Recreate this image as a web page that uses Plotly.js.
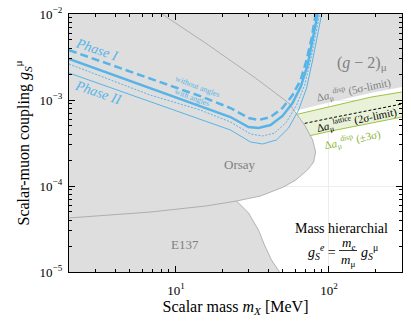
<!DOCTYPE html>
<html><head><meta charset="utf-8">
<script src="https://cdn.plot.ly/plotly-3.0.1.min.js"></script>
<style>html,body{margin:0;padding:0;background:#fff;}#plot{width:411px;height:326px;}</style>
</head><body><div id="plot"></div>
<script>
// ---- axis ranges / ticks ----
const xMin = 2, xMax = 300, yMin = 1e-5, yMax = 1e-2;
const xTickVals = [10, 100];
const xTickText = ['10<sup>1</sup>', '10<sup>2</sup>'];
const xMinorVals = [2,3,4,5,6,7,8,9,20,30,40,50,60,70,80,90,200,300];
const yTickVals = [1e-5, 1e-4, 1e-3, 1e-2];
const yTickText = ['10<sup>\u22125</sup>', '10<sup>\u22124</sup>', '10<sup>\u22123</sup>', '10<sup>\u22122</sup>'];
const yMinorVals = [2e-5,3e-5,4e-5,5e-5,6e-5,7e-5,8e-5,9e-5,2e-4,3e-4,4e-4,5e-4,6e-4,7e-4,8e-4,9e-4,2e-3,3e-3,4e-3,5e-3,6e-3,7e-3,8e-3,9e-3];

// ---- projected reach (blue) ----
const phase1WithoutX = [2, 6.8, 14.4, 22.7, 29.8, 34.6, 41.5, 49.7, 57.8, 65.3, 71.4, 77.0, 81.8];
const phase1WithoutY = [3.8e-3, 1.75e-3, 1.11e-3, 8.07e-4, 6.18e-4, 5.85e-4, 6.34e-4, 8.07e-4, 1.14e-3, 1.71e-3, 2.92e-3, 5.26e-3, 1e-2];
const phase1WithX = [2, 6.8, 14.4, 22.7, 29.8, 34.6, 41.5, 49.7, 57.8, 65.3, 72.5, 78.2, 84.3];
const phase1WithY = [3.0e-3, 1.38e-3, 8.5e-4, 6.34e-4, 4.85e-4, 4.72e-4, 5.12e-4, 6.52e-4, 9.23e-4, 1.42e-3, 2.55e-3, 4.98e-3, 1e-2];
const phase2WithoutX = [2, 6.8, 14.4, 22.7, 30.7, 36.8, 44.1, 52.8, 61.4, 69.3, 75.9, 81.8, 86.9];
const phase2WithoutY = [2.62e-3, 1.14e-3, 7.65e-4, 5.55e-4, 4.02e-4, 3.82e-4, 4.13e-4, 5.55e-4, 8.75e-4, 1.49e-3, 2.92e-3, 5.7e-3, 1e-2];
const phase2WithX = [2, 6.8, 14.4, 22.7, 30.7, 36.8, 45.4, 54.4, 63.3, 71.4, 78.2, 84.3, 89.6];
const phase2WithY = [2.06e-3, 9.48e-4, 6.01e-4, 4.48e-4, 3.25e-4, 3.08e-4, 3.43e-4, 4.72e-4, 7.65e-4, 1.38e-3, 2.92e-3, 5.7e-3, 1e-2];

// ---- Orsay boundary ----
const orsayX = [8.1, 15.6, 33.1, 54.5, 69.3, 78.2, 81.8, 79.4, 72.5, 60.5, 50.5, 35.7, 24.9, 15.6, 6.8, 2];
const orsayY = [1e-2, 4.6e-3, 1.8e-3, 9.23e-4, 5.12e-4, 3.43e-4, 2.49e-4, 1.9e-4, 1.54e-4, 1.17e-4, 9.74e-5, 7.65e-5, 6.69e-5, 5.85e-5, 4.98e-5, 4.25e-5];

// ---- E137 boundary ----
const e137X = [24.9, 29.8, 34.6, 37.9, 42.1, 47.5];
const e137Y = [6.69e-5, 4.85e-5, 3.08e-5, 2.06e-5, 1.38e-5, 1e-5];

// ---- (g-2)_mu bands ----
const bandX = [41.5, 56, 103, 188, 300];
const gm2FiveSigma = [6.43e-4, 7.25e-4, 9.48e-4, 1.21e-3, 1.42e-3];
const dispUpper = [5.78e-4, 6.52e-4, 8.5e-4, 1.08e-3, 1.24e-3];
const latticeTwoSigma = [4.36e-4, 4.94e-4, 6.18e-4, 7.65e-4, 8.99e-4];
const dispLower = [3.0e-4, 3.43e-4, 4.36e-4, 5.4e-4, 6.34e-4];

const GRAY = '#dedede';
const BLUE = '#56B4E9';
const GREEN = '#9dc243';
const SERIF = 'Liberation Serif, Times New Roman, serif';

const traces = [];
// g-2 excluded region
traces.push({x:[xMin, ...bandX, xMax, xMin], y:[gm2FiveSigma[0], ...gm2FiveSigma, yMax, yMax],
  mode:'lines', fill:'toself', fillcolor:GRAY, line:{width:0}, hoverinfo:'skip'});
// green disp band
traces.push({x:bandX, y:dispLower, mode:'lines', line:{color:GREEN, width:1}});
traces.push({x:bandX, y:dispUpper, mode:'lines', fill:'tonexty', fillcolor:'#e9f2d8', line:{color:GREEN, width:1}});
traces.push({x:bandX, y:latticeTwoSigma, mode:'lines', line:{color:'#000', width:1, dash:'3px,2px'}});
// Orsay fill
traces.push({x:[...orsayX, xMin], y:[...orsayY, yMax], mode:'lines', fill:'toself', fillcolor:GRAY, line:{width:0}});
// E137 fill
traces.push({x:[...e137X, xMin, xMin], y:[...e137Y, yMin, e137Y[0]], mode:'lines', fill:'toself', fillcolor:GRAY, line:{width:0}});
// boundaries
traces.push({x:orsayX, y:orsayY, mode:'lines', line:{color:'#999', width:0.7}});
traces.push({x:e137X, y:e137Y, mode:'lines', line:{color:'#999', width:0.7}});
// blue curves
traces.push({x:phase2WithX, y:phase2WithY, mode:'lines', line:{color:BLUE, width:1}});
traces.push({x:phase2WithoutX, y:phase2WithoutY, mode:'lines', line:{color:BLUE, width:1, dash:'2px,1.5px'}});
traces.push({x:phase1WithX, y:phase1WithY, mode:'lines', line:{color:BLUE, width:2.5}});
traces.push({x:phase1WithoutX, y:phase1WithoutY, mode:'lines', line:{color:BLUE, width:2.5, dash:'8px,4px'}});

function px(x){ return (x-69)/333; }
function py(y){ return (272-y)/258; }
function ann(text, x, y, size, color, angle, extra){
  return Object.assign({text:text, x:px(x), y:py(y), xref:'paper', yref:'paper', showarrow:false,
    font:{family:SERIF, size:size, color:color}, textangle:angle||0, xanchor:'center', yanchor:'middle'}, extra||{});
}
const annotations = [
  ann('<i>Phase I</i>', 97, 49, 14, BLUE, 19),
  ann('<i>Phase II</i>', 98, 92, 14, BLUE, 19),
  ann('without angles', 197, 87, 8, BLUE, 21),
  ann('with angles', 192, 97, 8, BLUE, 21),
  ann('(<i>g</i> \u2212 2)<sub>\u03bc</sub>', 362, 63, 16, '#808080', 0),
  ann('\u0394<i>a</i><sub>\u03bc</sub><sup>disp</sup> (5\u03c3-limit)', 354, 90, 11, '#808080', -12),
  ann('\u0394<i>a</i><sub>\u03bc</sub><sup>lattice</sup> (2\u03c3-limit)', 357, 120, 11, '#000', -12),
  ann('\u0394<i>a</i><sub>\u03bc</sub><sup>disp</sup> (\u00b13\u03c3)', 352, 140, 11, '#8db33a', -12),
  ann('Orsay', 240, 165, 13, '#808080', 0),
  ann('E137', 185, 244, 13, '#808080', 0),
  ann('Mass hierarchial', 390, 228, 14, '#000', 0, {xanchor:'right'}),
  ann('<i>g</i><sub><i>S</i></sub><sup><i>e</i></sup> =', 338, 252, 14, '#000', 0, {xanchor:'right'}),
  ann('<i>m<sub>e</sub></i>', 348, 243, 13, '#000', 0),
  ann('<i>m</i><sub>\u03bc</sub>', 348, 260, 13, '#000', 0),
  ann('<i>g</i><sub><i>S</i></sub><sup>\u03bc</sup>', 359, 252, 14, '#000', 0, {xanchor:'left'}),
];
const shapes = [
  {type:'line', xref:'paper', yref:'paper', x0:px(339), x1:px(357), y0:py(250.5), y1:py(250.5), line:{color:'#000', width:0.8}}
];

const axisCommon = {type:'log', ticks:'inside', ticklen:6, tickwidth:1, tickcolor:'#000',
  showline:true, linecolor:'#000', linewidth:1.2, mirror:'allticks', showgrid:true, gridcolor:'#e8e8e8', gridwidth:0.8,
  zeroline:false, tickmode:'array', tickfont:{family:SERIF, size:13, color:'#000'}};

const layout = {
  width:411, height:326, margin:{l:69, r:9, t:14, b:54},
  paper_bgcolor:'#fff', plot_bgcolor:'#fff', showlegend:false,
  font:{family:SERIF, color:'#000'},
  xaxis: Object.assign({}, axisCommon, {range:[Math.log10(xMin), Math.log10(xMax)], tickvals:xTickVals, ticktext:xTickText,
    ticklabelstandoff:6,
    minor:{tickmode:'array', tickvals:xMinorVals, ticks:'inside', ticklen:3, tickcolor:'#000', showgrid:false},
    title:{text:'Scalar mass <i>m<sub>X</sub></i> [MeV]', font:{family:SERIF, size:16, color:'#000'}, standoff:2}}),
  yaxis: Object.assign({}, axisCommon, {range:[Math.log10(yMin), Math.log10(yMax)], tickvals:yTickVals, ticktext:yTickText,
    ticklabelstandoff:3,
    minor:{tickmode:'array', tickvals:yMinorVals, ticks:'inside', ticklen:3, tickcolor:'#000', showgrid:false},
    title:{text:'Scalar-muon coupling <i>g</i><sub><i>S</i></sub><sup>\u03bc</sup>', font:{family:SERIF, size:16, color:'#000'}, standoff:6}}),
  annotations: annotations, shapes: shapes
};
Plotly.newPlot('plot', traces, layout, {staticPlot:true, displayModeBar:false});
</script></body></html>
